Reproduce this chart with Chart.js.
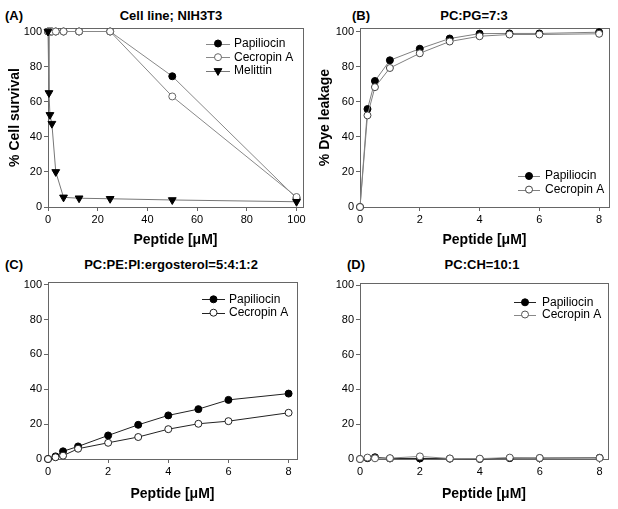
<!DOCTYPE html>
<html><head><meta charset="utf-8">
<script src="https://cdn.jsdelivr.net/npm/chart.js@4.4.1/dist/chart.umd.min.js"></script>
<style>
html,body{margin:0;padding:0;background:#fff;width:618px;height:509px;overflow:hidden;position:relative;}
canvas{position:absolute;}
.t{position:absolute;font:bold 13px Arial,'Liberation Sans',sans-serif;color:#000;line-height:16px;white-space:nowrap;}
.c{width:240px;text-align:center;}
</style></head><body>
<div class="t" style="left:5px;top:8px">(A)</div>
<div class="t c" style="left:51px;top:8px">Cell line; NIH3T3</div>
<div class="t" style="left:352px;top:8px">(B)</div>
<div class="t c" style="left:354px;top:8px">PC:PG=7:3</div>
<div class="t" style="left:5px;top:257px">(C)</div>
<div class="t c" style="left:51px;top:257px">PC:PE:PI:ergosterol=5:4:1:2</div>
<div class="t" style="left:347px;top:257px">(D)</div>
<div class="t c" style="left:362px;top:257px">PC:CH=10:1</div>
<canvas id="cA" width="309" height="254" style="left:0;top:0"></canvas>
<canvas id="cB" width="309" height="254" style="left:309px;top:0"></canvas>
<canvas id="cC" width="309" height="255" style="left:0;top:254px"></canvas>
<canvas id="cD" width="309" height="255" style="left:309px;top:254px"></canvas>
<script>
// ---- Data ----
const seriesNames = ['Papiliocin', 'Cecropin A', 'Melittin'];
// Panel A: cell survival vs peptide (uM)
const xA_pap = [0, 0.78, 1.56, 3.125, 6.25, 12.5, 25, 50, 100];
const yA_pap = [100, 100, 100, 100, 100, 100, 100, 74.5, 5];
const xA_cec = [0, 0.78, 1.56, 3.125, 6.25, 12.5, 25, 50, 100];
const yA_cec = [100, 100, 100, 100, 100, 100, 100, 63, 5.7];
const xA_mel = [0, 0.39, 0.78, 1.56, 3.125, 6.25, 12.5, 25, 50, 100];
const yA_mel = [100, 65, 52.5, 47.5, 20, 5.5, 5, 4.7, 4, 3];
// Panels B-D: dye leakage vs peptide (uM)
const xLeak = [0, 0.25, 0.5, 1, 2, 3, 4, 5, 6, 8];
const yB_pap = [0, 55.8, 71.8, 83.6, 90.2, 96, 98.8, 98.9, 98.9, 99.6];
const yB_cec = [0, 52.2, 68.3, 79.2, 87.6, 94.3, 97.3, 98.3, 98.3, 98.7];
const yC_pap = [0, 1.5, 4.4, 7.2, 13.5, 19.6, 25, 28.6, 33.9, 37.5];
const yC_cec = [0, 1, 1.9, 5.9, 9.3, 12.6, 17.1, 20.2, 21.7, 26.5];
const yD_pap = [0, 0.5, 1, 0.3, 0.3, 0.2, 0, 0.5, 0.5, 0.7];
const yD_cec = [0, 0.8, 0.4, 0.5, 1.5, 0.3, 0.2, 0.8, 0.6, 0.6];
const xTitle = 'Peptide [\u03BCM]';
const yTitleA = '% Cell survival';
const yTitleB = '% Dye leakage';

const FONT = "Arial, 'Liberation Sans', sans-serif";
const pts = (xs, ys) => xs.map((x, i) => ({x: x, y: ys[i]}));

function dsPap(xs, ys, line) {
  return {label: seriesNames[0], data: pts(xs, ys), borderColor: line, borderWidth: 1, pointStyle: 'circle',
    pointRadius: 3.5, pointBackgroundColor: '#000', pointBorderColor: '#000', pointBorderWidth: 1, order: 2, clip: false, tension: 0};
}
function dsCec(xs, ys, line, mk) {
  return {label: seriesNames[1], data: pts(xs, ys), borderColor: line, borderWidth: 1, pointStyle: 'circle',
    pointRadius: 3.5, pointBackgroundColor: '#fff', pointBorderColor: mk, pointBorderWidth: 1, order: 1, clip: false, tension: 0};
}
function dsMel(xs, ys, line) {
  return {label: seriesNames[2], data: pts(xs, ys), borderColor: line, borderWidth: 1, pointStyle: 'triangle', pointRotation: 180,
    pointRadius: 4.5, pointBackgroundColor: '#000', pointBorderColor: '#000', pointBorderWidth: 1, order: 0, clip: false, tension: 0};
}

function drawMarker(ctx, ds, x, y) {
  const r = ds.pointRadius;
  ctx.save();
  ctx.fillStyle = ds.pointBackgroundColor; ctx.strokeStyle = ds.pointBorderColor; ctx.lineWidth = ds.pointBorderWidth || 1;
  ctx.beginPath();
  if (ds.pointStyle === 'triangle') {
    const rot = (ds.pointRotation || 0) * Math.PI / 180;
    for (let k = 0; k < 3; k++) {
      const a = rot + k * 2 * Math.PI / 3;
      const px = x + Math.sin(a) * r, py = y - Math.cos(a) * r;
      if (k) ctx.lineTo(px, py); else ctx.moveTo(px, py);
    }
    ctx.closePath();
  } else ctx.arc(x, y, r, 0, 2 * Math.PI);
  ctx.fill(); ctx.stroke(); ctx.restore();
}

const framePlugin = {
  id: 'frame',
  beforeDatasetsDraw(chart) {
    const a = chart.chartArea, ctx = chart.ctx;
    ctx.save(); ctx.strokeStyle = '#666'; ctx.lineWidth = 1;
    ctx.strokeRect(Math.round(a.left) + 0.5, Math.round(a.top) + 0.5, Math.round(a.right - a.left), Math.round(a.bottom - a.top));
    ctx.restore();
  }
};
const legendPlugin = {
  id: 'boxLegend',
  afterDraw(chart, args, o) {
    const ctx = chart.ctx;
    chart.data.datasets.forEach((ds, i) => {
      const y = o.y + i * o.dy;
      ctx.save();
      ctx.strokeStyle = ds.borderColor; ctx.lineWidth = ds.borderWidth;
      ctx.beginPath(); ctx.moveTo(o.x, Math.round(y) + 0.5); ctx.lineTo(o.x + o.len, Math.round(y) + 0.5); ctx.stroke();
      ctx.restore();
      drawMarker(ctx, ds, o.x + o.len / 2, y);
      ctx.save();
      ctx.fillStyle = '#000'; ctx.font = '12px ' + FONT; ctx.textBaseline = 'middle'; ctx.textAlign = 'left';
      ctx.fillText(ds.label, o.x + o.len + o.gap, y);
      ctx.restore();
    });
  }
};

function makeChart(id, datasets, o) {
  const tickFont = {family: FONT, size: 11};
  return new Chart(document.getElementById(id), {
    type: 'line',
    data: {datasets: datasets},
    options: {
      responsive: false, animation: false, events: [],
      layout: {padding: o.pad},
      plugins: {legend: {display: false}, title: {display: false}, tooltip: {enabled: false}, boxLegend: o.legend},
      scales: {
        x: {type: 'linear', min: 0, max: o.xMax,
          afterFit: s => { s.height = o.xH; },
          ticks: {stepSize: o.xStep, includeBounds: false, font: tickFont, color: '#000', padding: 2, maxRotation: 0},
          grid: {display: true, drawOnChartArea: false, drawTicks: true, tickLength: 4, color: '#666'},
          border: {display: false},
          title: {display: true, text: xTitle, color: '#000', font: {family: FONT, size: 14, weight: 'bold'}, padding: {top: 0, bottom: o.xTitlePad}}},
        y: {type: 'linear', min: 0, max: o.yMax,
          afterFit: s => { s.width = o.yW; },
          ticks: {stepSize: 20, includeBounds: false, font: tickFont, color: '#000', padding: 2},
          grid: {display: true, drawOnChartArea: false, drawTicks: true, tickLength: 4, color: '#666'},
          border: {display: false},
          title: {display: !!o.yTitle, text: o.yTitle || '', color: '#000', font: {family: FONT, size: 14, weight: 'bold'}, padding: {top: o.yTitlePad || 0, bottom: 0}}}
      }
    },
    plugins: [framePlugin, legendPlugin]
  });
}

makeChart('cA', [dsPap(xA_pap, yA_pap, '#888'), dsCec(xA_cec, yA_cec, '#888', '#666'), dsMel(xA_mel, yA_mel, '#777')], {
  pad: {top: 28, right: 6, left: 0, bottom: 0}, xMax: 102.6, yMax: 102, xStep: 20, xH: 47, yW: 48,
  xTitlePad: 5.6, yTitle: yTitleA, yTitlePad: 6.6, legend: {x: 206, y: 43.5, dy: 13.7, len: 24, gap: 4}
});
makeChart('cB', [dsPap(xLeak, yB_pap, '#808080'), dsCec(xLeak, yB_cec, '#808080', '#444')], {
  pad: {top: 28, right: 9, left: 0, bottom: 0}, xMax: 8.33, yMax: 102, xStep: 2, xH: 47, yW: 51,
  xTitlePad: 5.6, yTitle: yTitleB, yTitlePad: 7.6, legend: {x: 209, y: 176, dy: 13.6, len: 22, gap: 5}
});
makeChart('cC', [dsPap(xLeak, yC_pap, '#222'), dsCec(xLeak, yC_cec, '#222', '#222')], {
  pad: {top: 28, right: 12, left: 0, bottom: 0}, xMax: 8.28, yMax: 101.5, xStep: 2, xH: 50, yW: 48,
  xTitlePad: 6.6, legend: {x: 202, y: 45.3, dy: 13.4, len: 23, gap: 4}
});
makeChart('cD', [dsPap(xLeak, yD_pap, '#222'), dsCec(xLeak, yD_cec, '#888', '#555')], {
  pad: {top: 29, right: 10, left: 0, bottom: 0}, xMax: 8.28, yMax: 101.2, xStep: 2, xH: 50, yW: 51,
  xTitlePad: 6.6, legend: {x: 205, y: 48.3, dy: 12.2, len: 22, gap: 6}
});
</script>
</body></html>
